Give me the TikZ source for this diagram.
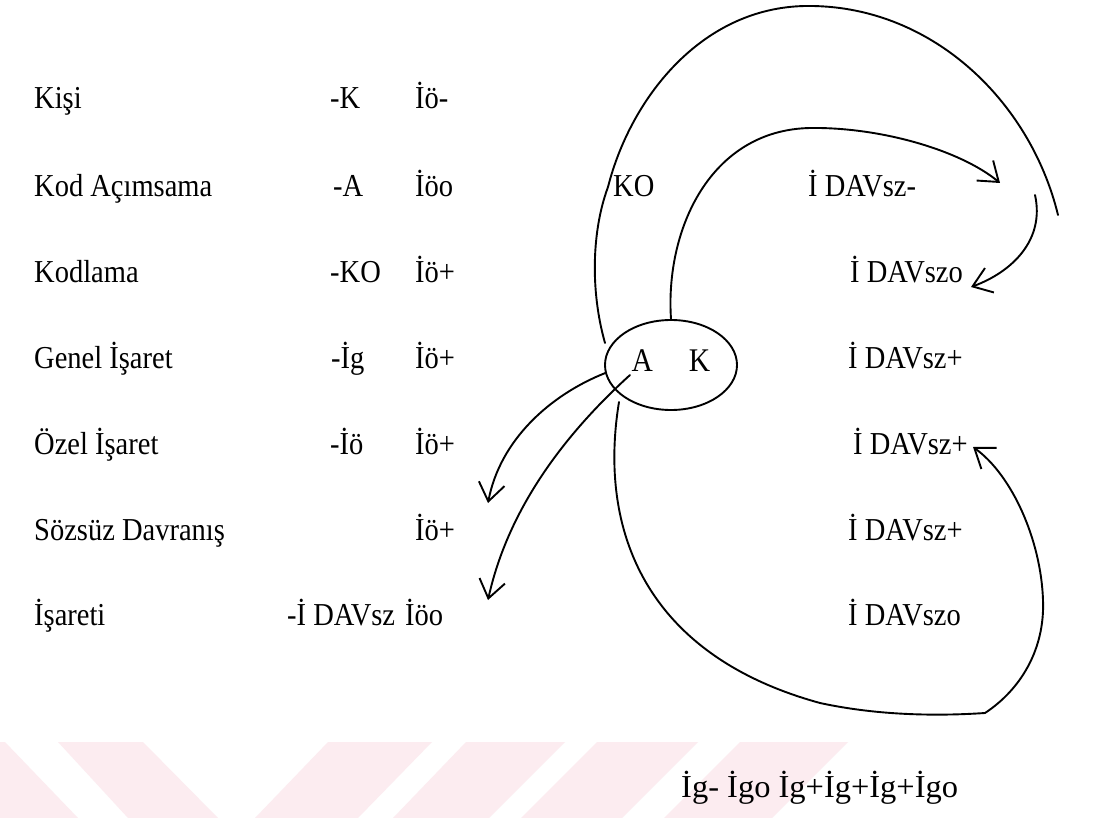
\documentclass[tikz,border=0pt]{standalone}
\usepackage{fontspec}
\setmainfont{Liberation Serif}
\usetikzlibrary{arrows.meta,shapes.geometric}
\definecolor{wmpink}{RGB}{252,236,240}
\newcommand\stx[1]{\scalebox{1}[1.12]{#1}}
\begin{document}
\begin{tikzpicture}[x=1pt,y=-1pt,
  lbl/.style={anchor=base west, inner sep=0pt, font=\fontsize{28.5}{34}\selectfont},
  conn/.style={line width=1.9pt, line cap=round, line join=round},
  arr/.style={conn, -{Straight Barb[length=18pt,width=26pt]}},
  wm/.style={fill=wmpink, draw=none}]
\fill[white] (0,0) rectangle (1106,818);
\useasboundingbox (0,0) rectangle (1106,818);
% watermark stripes
\fill[wm] (0,742) -- (5,742) -- (78,818) -- (0,818) -- cycle;
\fill[wm] (58,742) -- (143,742) -- (218,818) -- (128,818) -- cycle;
\fill[wm] (328,742) -- (432,742) -- (358,818) -- (255,818) -- cycle;
\fill[wm] (466,742) -- (565,742) -- (489,818) -- (393,818) -- cycle;
\fill[wm] (597,742) -- (698,742) -- (622,818) -- (521,818) -- cycle;
\fill[wm] (740,742) -- (848,742) -- (772,818) -- (664,818) -- cycle;
% row 1
\node[lbl] (n1a) at (34,109) {\stx{Kişi}};
\node[lbl] (n1b) at (330,109) {\stx{-K}};
\node[lbl] (n1c) at (415,109) {\stx{İö-}};
% row 2
\node[lbl] (n2a) at (34,197) {\stx{Kod Açımsama}};
\node[lbl] (n2b) at (333,197) {\stx{-A}};
\node[lbl] (n2c) at (415,197) {\stx{İöo}};
\node[lbl] (n2d) at (613,197) {\stx{KO}};
\node[lbl] (n2e) at (808,197) {\stx{İ DAVsz-}};
% row 3
\node[lbl] (n3a) at (34,283) {\stx{Kodlama}};
\node[lbl] (n3b) at (330,283) {\stx{-KO}};
\node[lbl] (n3c) at (415,283) {\stx{İö+}};
\node[lbl] (n3e) at (850,283) {\stx{İ DAVszo}};
% row 4
\node[lbl] (n4a) at (34,368) {\stx{Genel İşaret}};
\node[lbl] (n4b) at (331,368) {\stx{-İg}};
\node[lbl] (n4c) at (415,368) {\stx{İö+}};
\node[lbl] (n4e) at (848,368) {\stx{İ DAVsz+}};
% row 5
\node[lbl] (n5a) at (34,454) {\stx{Özel İşaret}};
\node[lbl] (n5b) at (330,454) {\stx{-İö}};
\node[lbl] (n5c) at (415,454) {\stx{İö+}};
\node[lbl] (n5e) at (853,454) {\stx{İ DAVsz+}};
% row 6
\node[lbl] (n6a) at (34,540) {\stx{Sözsüz Davranış}};
\node[lbl] (n6c) at (415,540) {\stx{İö+}};
\node[lbl] (n6e) at (848,540) {\stx{İ DAVsz+}};
% row 7
\node[lbl] (n7a) at (34,625) {\stx{İşareti}};
\node[lbl] (n7b) at (287,625) {\stx{-İ DAVsz}};
\node[lbl] (n7c) at (405,625) {\stx{İöo}};
\node[lbl] (n7e) at (848,625) {\stx{İ DAVszo}};
% bottom
\node[lbl] (nb) at (681,797) {\scalebox{1.14}[1.12]{İg- İgo İg+İg+İg+İgo}};
% ellipse
\node[draw, ellipse, line width=1.9pt, minimum width=132pt, minimum height=90pt,
      inner sep=0pt, text height=21pt, text depth=9pt,
      font=\fontsize{29.5}{34}\selectfont] (ak) at (671,365) {\stx{A\hspace{36pt}K}};
% coordinates
\coordinate (c1s) at (605,343);
\coordinate (c1e) at (1058,215);
\coordinate (t1) at (1000,183);
\coordinate (c3s) at (1035,195);
\coordinate (t3) at (971,287);
\coordinate (t4) at (488,503);
\coordinate (c5s) at (630,375);
\coordinate (t5) at (488,600);
\coordinate (c6s) at (619,402);
\coordinate (kink) at (985,713);
\coordinate (t6) at (973,447);
% connectors
\draw[conn] (c1s) .. controls (590,290) and (592,230) .. (608,187)
  .. controls (630,100) and (700,8) .. (805,6)
  .. controls (930,4) and (1030,100) .. (c1e);
\draw[arr] (ak.north) .. controls (665,230) and (710,130) .. (810,128)
  .. controls (880,127) and (960,150) .. (t1);
\draw[arr] (c3s) .. controls (1045,240) and (1012,272) .. (t3);
\draw[arr] (ak.187) .. controls (550,395) and (500,440) .. (t4);
\draw[arr] (c5s) .. controls (575,425) and (510,500) .. (t5);
\draw[arr] (c6s) .. controls (598,530) and (645,655) .. (820,703)
  .. controls (880,716) and (940,716) .. (kink)
  .. controls (1020,690) and (1045,650) .. (1043,600)
  .. controls (1041,540) and (1012,475) .. (t6);
\end{tikzpicture}
\end{document}
